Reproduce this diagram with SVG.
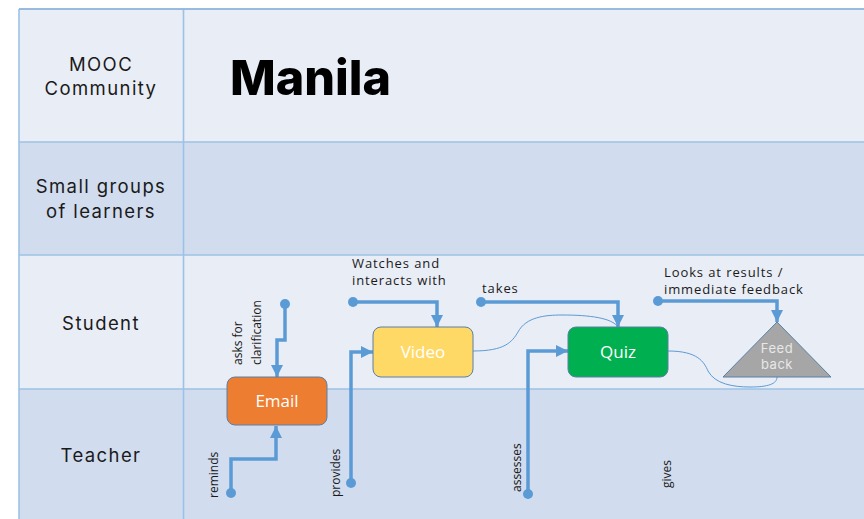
<svg xmlns="http://www.w3.org/2000/svg" width="864" height="519" viewBox="0 0 864 519">
  <style>
    .lane-light { fill: #e9edf6; }
    .lane-dark { fill: #d1dcee; }
    .grid { stroke: #9cc2e5; stroke-width: 1.6; fill: none; }
    .lane-label { font-family: "Inter", "Open Sans", sans-serif; font-size: 18.5px; letter-spacing: 1.4px; fill: #1a1a1a; text-anchor: middle; }
    .title { font-family: "Inter", "Open Sans", sans-serif; font-weight: 800; font-size: 48.5px; fill: #000; }
    .note { font-family: "Open Sans", "Noto Sans", sans-serif; font-size: 13px; letter-spacing: 0.9px; fill: #1a1a1a; }
    .vnote { font-family: "Open Sans", "Noto Sans", sans-serif; font-size: 12px; fill: #1a1a1a; }
    .node-label { font-family: "Open Sans", "Noto Sans", sans-serif; font-size: 17px; fill: #ffffff; text-anchor: middle; }
    .tri-label { font-family: "Inter", "Open Sans", sans-serif; font-size: 13px; letter-spacing: 0.5px; fill: #e8e8e8; text-anchor: middle; }
    .flow { stroke: #5b9bd5; stroke-width: 3.5; fill: none; }
    .link { stroke: #5b9bd5; stroke-width: 1; fill: none; }
    .dot { fill: #5b9bd5; }
    .box { stroke: #5a7fa6; stroke-width: 1; }
  </style>
  <defs>
    <marker id="head" viewBox="0 0 10 10" refX="10" refY="5" markerWidth="12" markerHeight="12" markerUnits="userSpaceOnUse" orient="auto">
      <path d="M0,0 L10,5 L0,10 Z" fill="#5b9bd5"/>
    </marker>
  </defs>

  <rect width="864" height="519" fill="#ffffff"/>

  <!-- swim lanes -->
  <g id="lanes">
    <rect class="lane-light" x="19" y="9" width="845" height="133"/>
    <rect class="lane-dark" x="19" y="142" width="845" height="113"/>
    <rect class="lane-light" x="19" y="255" width="845" height="134"/>
    <rect class="lane-dark" x="19" y="389" width="845" height="130"/>
    <path class="grid" d="M19,9 H864 M19,142 H864 M19,255 H864 M19,389 H864 M19,9 V519 M183.5,9 V519"/>
    <path d="M19,9 H864" stroke="#8fb3dc" stroke-width="1.6"/>
  </g>

  <g id="lane-labels">
    <text class="lane-label" x="101" y="71">MOOC</text>
    <text class="lane-label" x="101" y="95">Community</text>
    <text class="lane-label" x="101" y="193">Small groups</text>
    <text class="lane-label" x="101" y="218">of learners</text>
    <text class="lane-label" x="101" y="330">Student</text>
    <text class="lane-label" x="101" y="462">Teacher</text>
  </g>

  <text class="title" x="230" y="95">Manila</text>

  <!-- connectors -->
  <g id="connectors">
    <path class="link" d="M473,351 C505,351 512,342 518,332 C526,317 545,315 562,315 C590,315 612,318 618,327"/>
    <path class="link" d="M668,351 C698,351 704,362 708,371 C715,384 733,387 750,387 C768,387 777,384 777,377"/>

    <circle class="dot" cx="285" cy="304" r="5"/>
    <path class="flow" marker-end="url(#head)" d="M285,304 V340 H277 V377"/>

    <circle class="dot" cx="231" cy="493" r="5"/>
    <path class="flow" marker-end="url(#head)" d="M231,493 V459 H276 V426"/>

    <circle class="dot" cx="351" cy="483" r="5"/>
    <path class="flow" marker-end="url(#head)" d="M351,483 V352 H373"/>

    <circle class="dot" cx="353" cy="302" r="5"/>
    <path class="flow" marker-end="url(#head)" d="M353,302 H437 V327"/>

    <circle class="dot" cx="481" cy="302" r="5"/>
    <path class="flow" marker-end="url(#head)" d="M481,302 H618 V327"/>

    <circle class="dot" cx="658" cy="301" r="5"/>
    <path class="flow" marker-end="url(#head)" d="M658,301 H777 V322"/>

    <circle class="dot" cx="528" cy="494" r="5"/>
    <path class="flow" marker-end="url(#head)" d="M528,494 V351 H568"/>
  </g>

  <!-- connector labels -->
  <g id="labels">
    <text class="note" x="352" y="268">Watches and</text>
    <text class="note" x="352" y="285">interacts with</text>
    <text class="note" x="482" y="293">takes</text>
    <text class="note" x="664" y="277">Looks at results /</text>
    <text class="note" x="664" y="294">immediate feedback</text>
    <text class="vnote" transform="translate(242,365) rotate(-90)">asks for</text>
    <text class="vnote" transform="translate(261,365) rotate(-90)">clarification</text>
    <text class="vnote" transform="translate(218,498) rotate(-90)">reminds</text>
    <text class="vnote" transform="translate(340,497) rotate(-90)">provides</text>
    <text class="vnote" transform="translate(521,492) rotate(-90)">assesses</text>
    <text class="vnote" transform="translate(671,488) rotate(-90)">gives</text>
  </g>

  <!-- nodes -->
  <g id="email">
    <rect class="box" x="227" y="377" width="100" height="48" rx="8" fill="#ed7d31"/>
    <text class="node-label" x="277" y="407">Email</text>
  </g>
  <g id="video">
    <rect class="box" x="373" y="327" width="100" height="50" rx="8" fill="#ffd966"/>
    <text class="node-label" x="423" y="358">Video</text>
  </g>
  <g id="quiz">
    <rect class="box" x="568" y="327" width="100" height="50" rx="8" fill="#00b050"/>
    <text class="node-label" x="618" y="358">Quiz</text>
  </g>
  <g id="feedback">
    <path class="box" d="M777,322 L831,377 L723,377 Z" fill="#a6a6a6"/>
    <text class="tri-label" x="777" y="353">Feed</text>
    <text class="tri-label" x="777" y="369">back</text>
  </g>
</svg>
